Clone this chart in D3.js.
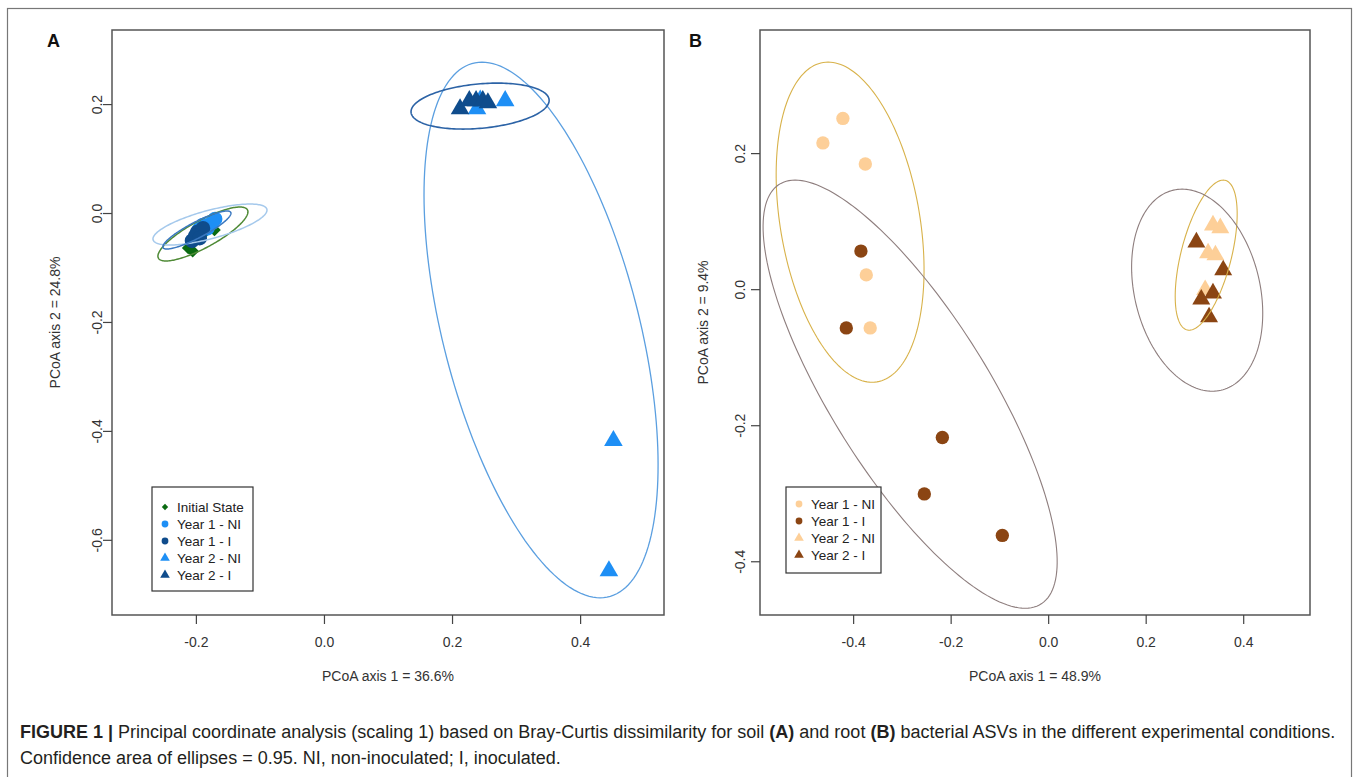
<!DOCTYPE html>
<html>
<head>
<meta charset="utf-8">
<script src="https://cdn.jsdelivr.net/npm/d3@7"></script>
<style>
  html, body { margin: 0; padding: 0; background: #fff; }
  svg { display: block; }
  text { font-family: "Liberation Sans", Arial, sans-serif; }
</style>
</head>
<body>
<svg id="fig" width="1358" height="777"></svg>
<script>
// ---------------- DATA ----------------
// Panel A: soil
const groupsA = ["Initial State", "Year 1 - NI", "Year 1 - I", "Year 2 - NI", "Year 2 - I"];
const colorsA = ["#0b6b12", "#1e8ff5", "#0f4c8c", "#1e8ff5", "#0f4c8c"];
const ellipseColorsA = ["#4f8a36", "#a5c9ec", "#3a78c0", "#5b9fe0", "#2c63a6"];
const shapesA = ["diamond", "circle", "circle", "triangle", "triangle"];

const initialStateA = [[-0.212, -0.064], [-0.205, -0.070], [-0.171, -0.031], [-0.190, -0.040], [-0.200, -0.050]];
const year1NIA = [[-0.189, -0.022], [-0.170, -0.011], [-0.175, -0.018], [-0.195, -0.030], [-0.182, -0.028]];
const year1IA = [[-0.206, -0.051], [-0.198, -0.035], [-0.189, -0.028], [-0.201, -0.042], [-0.194, -0.046]];
const year2NIA = [[0.283, 0.206], [0.239, 0.191], [0.244, 0.207], [0.452, -0.418], [0.445, -0.657]];
const year2IA = [[0.2125, 0.191], [0.227, 0.206], [0.2375, 0.206], [0.248, 0.206], [0.256, 0.202]];

// ellipses: centre and two conjugate half-axes (data units)
const ellipseCentersA = [[-0.189, -0.0385], [-0.178, -0.0211], [-0.1984, -0.0312], [0.339, -0.2147], [0.2438, 0.1963]];
const ellipseAxis1A = [[0.0578, 0.0495], [0.0625, 0.0376], [0.0469, 0.0349], [-0.0922, 0.4917], [0.0266, 0.0422]];
const ellipseAxis2A = [[0.040, 0], [0.0634, 0], [0.025, 0], [0.1578, 0], [0.1045, 0]];

const xDomainA = [-0.331, 0.531];
const yDomainA = [-0.738, 0.336];
const xTicksA = [-0.2, 0.0, 0.2, 0.4];
const yTicksA = [-0.6, -0.4, -0.2, 0.0, 0.2];
const xTitleA = "PCoA axis 1 = 36.6%";
const yTitleA = "PCoA axis 2 = 24.8%";

// Panel B: root
const groupsB = ["Year 1 - NI", "Year 1 - I", "Year 2 - NI", "Year 2 - I"];
const colorsB = ["#fdcf98", "#8b4513", "#fdcf98", "#8b4513"];
const ellipseColorsB = ["#d8b24a", "#8e7e7e", "#d8b24a", "#8e7e7e"];
const shapesB = ["circle", "circle", "triangle", "triangle"];

const year1NIB = [[-0.462, 0.215], [-0.421, 0.251], [-0.375, 0.184], [-0.373, 0.021], [-0.365, -0.057]];
const year1IB = [[-0.384, 0.056], [-0.414, -0.057], [-0.217, -0.218], [-0.254, -0.301], [-0.094, -0.362]];
const year2NIB = [[0.338, 0.094], [0.353, 0.090], [0.328, 0.053], [0.343, 0.050], [0.322, -0.001]];
const year2IB = [[0.304, 0.069], [0.359, 0.028], [0.338, -0.006], [0.314, -0.015], [0.330, -0.041]];

const ellipseCentersB = [[-0.4062, 0.0985], [-0.2831, -0.1544], [0.3241, 0.050], [0.3056, -0.0015]];
const ellipseAxis1B = [[-0.0451, 0.2353], [-0.2359, 0.3147], [0.0349, 0.1103], [-0.0308, 0.1485]];
const ellipseAxis2B = [[0.1448, 0], [0.1879, 0], [0.0531, 0], [0.1309, 0]];

const xDomainB = [-0.591, 0.537];
const yDomainB = [-0.479, 0.381];
const xTicksB = [-0.4, -0.2, 0.0, 0.2, 0.4];
const yTicksB = [-0.4, -0.2, 0.0, 0.2];
const xTitleB = "PCoA axis 1 = 48.9%";
const yTitleB = "PCoA axis 2 = 9.4%";

const captionLine1 = [
  {t: "FIGURE 1 | ", b: true},
  {t: "Principal coordinate analysis (scaling 1) based on Bray-Curtis dissimilarity for soil ", b: false},
  {t: "(A)", b: true},
  {t: " and root ", b: false},
  {t: "(B)", b: true},
  {t: " bacterial ASVs in the different experimental conditions.", b: false}
];
const captionLine2 = "Confidence area of ellipses = 0.95. NI, non-inoculated; I, inoculated.";

// ---------------- DRAW ----------------
const svg = d3.select("#fig");
svg.append("rect").attr("x", 7.5).attr("y", 8.5).attr("width", 1344).attr("height", 775)
  .attr("fill", "none").attr("stroke", "#777").attr("stroke-width", 1.2);

function symbolPath(shape, size) {
  if (shape === "circle") return d3.symbol(d3.symbolCircle, size)();
  if (shape === "triangle") return d3.symbol(d3.symbolTriangle, size)();
  return d3.symbol(d3.symbolSquare, size)();
}

function drawPanel(cfg) {
  const g = svg.append("g");
  const x = d3.scaleLinear().domain(cfg.xDomain).range([cfg.left, cfg.right]);
  const y = d3.scaleLinear().domain(cfg.yDomain).range([cfg.bottom, cfg.top]);

  // points
  cfg.series.forEach((pts, i) => {
    const shape = cfg.shapes[i];
    const size = shape === "circle" ? cfg.circleSize : shape === "triangle" ? cfg.triSize : cfg.diaSize;
    g.append("g").selectAll("path").data(pts).join("path")
      .attr("d", symbolPath(shape, size))
      .attr("transform", d => `translate(${x(d[0])},${y(d[1])})` + (shape === "diamond" ? " rotate(45)" : ""))
      .attr("fill", cfg.colors[i]);
  });

  // ellipses
  const line = d3.line().x(d => x(d[0])).y(d => y(d[1])).curve(d3.curveLinearClosed);
  cfg.eCenters.forEach((c, i) => {
    const a = cfg.eAxis1[i], b = cfg.eAxis2[i];
    const pts = d3.range(0, 360, 2).map(deg => {
      const t = deg * Math.PI / 180;
      return [c[0] + a[0] * Math.cos(t) + b[0] * Math.sin(t), c[1] + a[1] * Math.cos(t) + b[1] * Math.sin(t)];
    });
    g.append("path").attr("d", line(pts)).attr("fill", "none")
      .attr("stroke", cfg.eColors[i]).attr("stroke-width", cfg.eWidths ? cfg.eWidths[i] : 1.4);
  });

  // box
  g.append("rect").attr("x", cfg.left).attr("y", cfg.top)
    .attr("width", cfg.right - cfg.left).attr("height", cfg.bottom - cfg.top)
    .attr("fill", "none").attr("stroke", "#555").attr("stroke-width", 1.5);

  const fmt = d => d.toFixed(1);
  // x axis
  const xa = g.append("g").attr("transform", `translate(0,${cfg.bottom})`)
    .call(d3.axisBottom(x).tickValues(cfg.xTicks).tickSize(9).tickFormat(fmt));
  xa.select(".domain").remove();
  xa.selectAll("line").attr("stroke", "#444").attr("stroke-width", 1.2);
  xa.selectAll("text").attr("font-size", 14).attr("fill", "#333").attr("y", 22)
    .attr("font-family", "Liberation Sans, Arial, sans-serif");

  // y axis
  const ya = g.append("g").attr("transform", `translate(${cfg.left},0)`)
    .call(d3.axisLeft(y).tickValues(cfg.yTicks).tickSize(9).tickFormat(fmt));
  ya.select(".domain").remove();
  ya.selectAll("line").attr("stroke", "#444").attr("stroke-width", 1.2);
  ya.selectAll("text").attr("font-size", 14).attr("fill", "#333")
    .attr("font-family", "Liberation Sans, Arial, sans-serif")
    .attr("x", null).attr("dy", null)
    .attr("text-anchor", "middle")
    .attr("transform", `translate(${-cfg.yLabelOffset},0) rotate(-90)`);

  // axis titles
  g.append("text").attr("x", (cfg.left + cfg.right) / 2).attr("y", cfg.bottom + 66)
    .attr("text-anchor", "middle").attr("font-size", 14).attr("fill", "#333").text(cfg.xTitle);
  g.append("text").attr("transform", `translate(${cfg.left - 52},${(cfg.top + cfg.bottom) / 2}) rotate(-90)`)
    .attr("text-anchor", "middle").attr("font-size", 14).attr("fill", "#333").text(cfg.yTitle);

  // panel letter
  g.append("text").attr("x", cfg.letterX).attr("y", 47).attr("font-size", 18)
    .attr("font-weight", "bold").attr("fill", "#111").text(cfg.letter);

  // legend
  const L = cfg.legend;
  g.append("rect").attr("x", L.x).attr("y", L.y).attr("width", L.w).attr("height", L.h)
    .attr("fill", "#fff").attr("stroke", "#333").attr("stroke-width", 1.2);
  cfg.groups.forEach((name, i) => {
    const cy = L.y + L.first + i * L.step;
    const shape = cfg.shapes[i];
    const size = shape === "circle" ? 36 : shape === "triangle" ? 40 : 20;
    g.append("path").attr("d", symbolPath(shape, size))
      .attr("transform", `translate(${L.x + 13},${cy})` + (shape === "diamond" ? " rotate(45)" : ""))
      .attr("fill", cfg.colors[i]);
    g.append("text").attr("x", L.x + 25).attr("y", cy + 5).attr("font-size", 13.5)
      .attr("fill", "#222").text(name);
  });
}

drawPanel({
  left: 112, right: 664, top: 30, bottom: 615,
  xDomain: xDomainA, yDomain: yDomainA, xTicks: xTicksA, yTicks: yTicksA,
  xTitle: xTitleA, yTitle: yTitleA, letter: "A", letterX: 47, yLabelOffset: 10,
  groups: groupsA, colors: colorsA, shapes: shapesA,
  series: [initialStateA, year1NIA, year1IA, year2NIA, year2IA],
  eCenters: ellipseCentersA, eAxis1: ellipseAxis1A, eAxis2: ellipseAxis2A, eColors: ellipseColorsA,
  eWidths: [1.5, 1.5, 1.5, 1.3, 1.6],
  circleSize: 170, triSize: 150, diaSize: 80,
  legend: {x: 152, y: 487, w: 101, h: 104, first: 20, step: 17}
});

drawPanel({
  left: 760, right: 1310, top: 30, bottom: 615,
  xDomain: xDomainB, yDomain: yDomainB, xTicks: xTicksB, yTicks: yTicksB,
  xTitle: xTitleB, yTitle: yTitleB, letter: "B", letterX: 689, yLabelOffset: 15,
  groups: groupsB, colors: colorsB, shapes: shapesB,
  series: [year1NIB, year1IB, year2NIB, year2IB],
  eCenters: ellipseCentersB, eAxis1: ellipseAxis1B, eAxis2: ellipseAxis2B, eColors: ellipseColorsB,
  eWidths: [1.1, 1.1, 1.1, 1.1],
  circleSize: 140, triSize: 140, diaSize: 80,
  legend: {x: 786, y: 487, w: 95, h: 86, first: 17, step: 17}
});

// caption
const cap1 = svg.append("text").attr("x", 20).attr("y", 738).attr("font-size", 18).attr("fill", "#231f20");
captionLine1.forEach(p => cap1.append("tspan").attr("font-weight", p.b ? "bold" : "normal").text(p.t));
svg.append("text").attr("x", 20).attr("y", 764).attr("font-size", 18).attr("fill", "#231f20").text(captionLine2);
</script>
</body>
</html>
